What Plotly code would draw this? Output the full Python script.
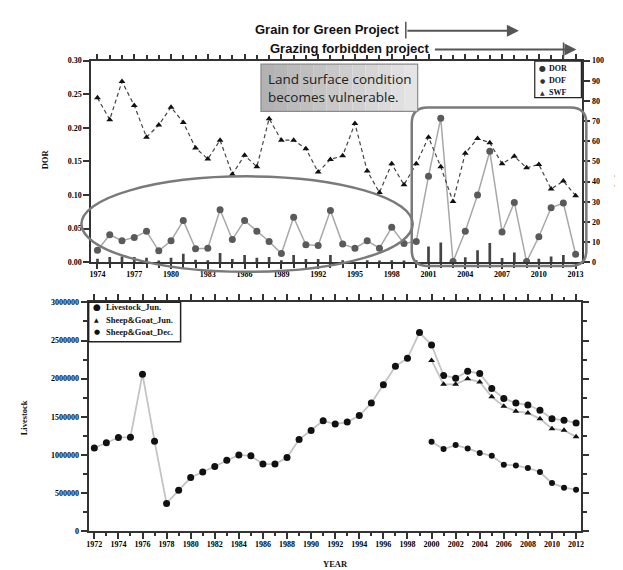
import plotly.graph_objects as go

W, H = 623, 570

# ---------------- data ----------------
years_top = list(range(1974, 2014))
dor = [0.018, 0.041, 0.032, 0.037, 0.046, 0.017, 0.032, 0.062, 0.020, 0.021,
       0.078, 0.034, 0.062, 0.046, 0.031, 0.013, 0.067, 0.026, 0.025, 0.077,
       0.027, 0.021, 0.032, 0.021, 0.052, 0.028, 0.031, 0.128, 0.214, 0.001,
       0.046, 0.100, 0.165, 0.045, 0.089, 0.001, 0.038, 0.081, 0.088, 0.012]
dof = [1.8, 2.6, 2.9, 2.6, 2.3, 0.5, 2.3, 4.2, 1.3, 1.0,
       4.6, 1.6, 3.6, 2.3, 2.6, 1.0, 3.6, 1.6, 1.6, 3.6,
       1.0, 0.0, 1.0, 0.7, 1.0, 0.7, 1.0, 7.8, 9.8, 0.0,
       2.5, 6.0, 9.6, 2.1, 4.8, 0.0, 1.8, 2.9, 3.6, 0.0]
swf = [81.5, 70.7, 89.6, 77.7, 62.0, 68.0, 76.9, 69.3, 56.7, 51.2,
       60.5, 43.6, 53.0, 47.3, 71.2, 60.5, 60.5, 56.3, 44.7, 51.0,
       52.8, 68.8, 45.2, 34.6, 48.8, 38.4, 48.8, 62.0, 47.3, 30.1,
       54.1, 61.3, 59.3, 48.8, 52.5, 46.8, 48.5, 36.3, 40.3, 33.0]

years_bot = list(range(1972, 2013))
livestock_jun = [1092000, 1160000, 1229000, 1233000, 2059000, 1182000, 365000, 537000,
                 705000, 778000, 851000, 933000, 1001000, 989000, 881000, 881000,
                 967000, 1203000, 1320000, 1448000, 1405000, 1431000, 1517000, 1681000,
                 1921000, 2162000, 2269000, 2605000, 2441000, 2042000, 2007000, 2097000,
                 2067000, 1870000, 1741000, 1681000, 1655000, 1586000, 1474000, 1457000,
                 1418000]
years_sg = list(range(2000, 2013))
sheep_jun = [2239000, 1926000, 1926000, 1999000, 1956000, 1762000, 1638000, 1573000,
             1552000, 1474000, 1345000, 1324000, 1238000]
sheep_dec = [1173000, 1079000, 1130000, 1087000, 1027000, 989000, 873000, 864000,
             830000, 778000, 632000, 572000, 546000]

top_ticks = list(range(1974, 2014, 3))
bot_ticks = list(range(1972, 2013, 2))

top_legend = [("DOR", "●", 8), ("DOF", "●", 6), ("SWF", "▲", 6)]
bot_legend = [("Livestock_Jun.", "●", 9), ("Sheep&Goat_Jun.", "▲", 6), ("Sheep&Goat_Dec.", "●", 7)]


def px(x):
    return x / W


def py(y):
    return 1 - y / H


SERIF = "Liberation Serif"
tickfont = dict(family=SERIF, size=8, color="black", weight="bold")
AX = "#333"

fig = go.Figure()

# ---------- top panel ----------
fig.add_trace(go.Bar(x=years_top, y=dof, xaxis="x", yaxis="y2", width=0.22, name="DOF",
                     marker=dict(color="#444", line=dict(width=0))))
fig.add_trace(go.Scatter(x=years_top, y=swf, xaxis="x", yaxis="y2", mode="lines+markers",
                         name="SWF", line=dict(color="#444", width=1.2, dash="4px,3px"),
                         marker=dict(symbol="triangle-up", size=6, color="#111")))
fig.add_trace(go.Scatter(x=years_top, y=dor, xaxis="x", yaxis="y", mode="lines+markers",
                         name="DOR", line=dict(color="#a8a8a8", width=1.5),
                         marker=dict(symbol="circle", size=7, color="#5a5a5a")))

# ---------- bottom panel ----------
fig.add_trace(go.Scatter(x=years_bot, y=livestock_jun, xaxis="x2", yaxis="y3",
                         mode="lines+markers", name="Livestock_Jun.",
                         line=dict(color="#c4c4c4", width=1.8),
                         marker=dict(symbol="circle", size=7, color="#111")))
fig.add_trace(go.Scatter(x=years_sg, y=sheep_jun, xaxis="x2", yaxis="y3",
                         mode="lines+markers", name="Sheep&Goat_Jun.",
                         line=dict(color="#c4c4c4", width=1.8),
                         marker=dict(symbol="triangle-up", size=6, color="#111")))
fig.add_trace(go.Scatter(x=years_sg, y=sheep_dec, xaxis="x2", yaxis="y3",
                         mode="lines+markers", name="Sheep&Goat_Dec.",
                         line=dict(color="#c4c4c4", width=1.8),
                         marker=dict(symbol="circle", size=6, color="#111")))

axis_common = dict(showline=True, linecolor=AX, linewidth=2, showgrid=False,
                   zeroline=False, ticks="outside", tickcolor=AX, tickwidth=1.5,
                   tickfont=tickfont)

fig.update_layout(
    width=W, height=H, margin=dict(l=0, r=0, t=0, b=0),
    paper_bgcolor="white", plot_bgcolor="white", showlegend=False,
    xaxis=dict(domain=[px(82), px(577)], range=[1973.5, 2013.55], anchor="y",
               tickvals=top_ticks, ticklen=5, mirror="ticks", ticklabelstandoff=-2,
               minor=dict(dtick=1, tick0=1974, ticks="outside", ticklen=4, tickcolor=AX),
               **axis_common),
    yaxis=dict(domain=[py(254.3), py(49.3)], range=[0, 0.30], dtick=0.05,
               tickformat=".2f", ticklen=6, anchor="x", **axis_common),
    yaxis2=dict(overlaying="y", side="right", range=[0, 100], dtick=10, ticklen=6,
                anchor="x", **axis_common),
    xaxis2=dict(domain=[px(79.3), px(576)], range=[1971.53, 2012.44], anchor="y3",
                tickvals=bot_ticks, ticklen=6, mirror="ticks", ticklabelstandoff=-2,
                minor=dict(dtick=1, tick0=1972, ticks="outside", ticklen=3, tickcolor=AX),
                **axis_common),
    yaxis3=dict(domain=[py(527.7), py(295)], range=[0, 3000000], dtick=500000,
                tickformat="d", ticklen=6, mirror="ticks", anchor="x2",
                minor=dict(dtick=250000, ticks="outside", ticklen=4, tickcolor=AX),
                **axis_common),
)

shapes = []
ann = []
# ellipse
shapes.append(dict(type="circle", xref="paper", yref="paper",
                   x0=px(72), x1=px(406), y0=py(264), y1=py(167),
                   line=dict(color="#7a7a7a", width=2.5)))
# rounded rectangle
x0, x1, y0, y1, r = 405, 581, 97, 258, 16
path = (f"M {px(x0 + r)},{py(y0)} L {px(x1 - r)},{py(y0)} "
        f"Q {px(x1)},{py(y0)} {px(x1)},{py(y0 + r)} "
        f"L {px(x1)},{py(y1 - r)} Q {px(x1)},{py(y1)} {px(x1 - r)},{py(y1)} "
        f"L {px(x0 + r)},{py(y1)} Q {px(x0)},{py(y1)} {px(x0)},{py(y1 - r)} "
        f"L {px(x0)},{py(y0 + r)} Q {px(x0)},{py(y0)} {px(x0 + r)},{py(y0)} Z")
shapes.append(dict(type="path", xref="paper", yref="paper", path=path,
                   line=dict(color="#7a7a7a", width=2.5)))
# gradient text box (strips)
bx0, bx1, by0, by1 = 253, 411, 53, 101
n = 12
for i in range(n):
    c = int(178 + (228 - 178) * i / (n - 1))
    shapes.append(dict(type="rect", xref="paper", yref="paper",
                       x0=px(bx0 + (bx1 - bx0) * i / n), x1=px(bx0 + (bx1 - bx0) * (i + 1) / n),
                       y0=py(by1), y1=py(by0), fillcolor=f"rgb({c},{c},{c})",
                       line=dict(width=0), layer="above"))
shapes.append(dict(type="rect", xref="paper", yref="paper",
                   x0=px(bx0), x1=px(bx1), y0=py(by1), y1=py(by0),
                   line=dict(color="#8a8a8a", width=1.2), layer="above"))
# vertical markers near the project arrows
shapes.append(dict(type="line", xref="paper", yref="paper",
                   x0=px(399), x1=px(399), y0=py(10), y1=py(27),
                   line=dict(color="#555", width=1.5)))
shapes.append(dict(type="line", xref="paper", yref="paper",
                   x0=px(558), x1=px(558), y0=py(31), y1=py(47),
                   line=dict(color="#555", width=1.5)))

# ---- custom legends (compact, like the reference) ----
legfont = dict(family=SERIF, size=8, color="#111", weight="bold")
shapes.append(dict(type="rect", xref="paper", yref="paper", x0=px(529), x1=px(576),
                   y0=py(87), y1=py(50), fillcolor="white",
                   line=dict(color="#222", width=1.2), layer="above"))
for i, (name, sym, sz) in enumerate(top_legend):
    yy = 57.5 + 12 * i
    ann.append(dict(xref="paper", yref="paper", x=px(537), y=py(yy), text=sym,
                    showarrow=False, xanchor="center", yanchor="middle",
                    font=dict(family="DejaVu Sans", size=sz, color="#333")))
    ann.append(dict(xref="paper", yref="paper", x=px(541.5), y=py(yy), text=name,
                    showarrow=False, xanchor="left", yanchor="middle", font=legfont))

shapes.append(dict(type="rect", xref="paper", yref="paper", x0=px(79.3), x1=px(172),
                   y0=py(335), y1=py(295), fillcolor="white",
                   line=dict(color="#222", width=1.5), layer="above"))
legfont2 = dict(family=SERIF, size=8.5, color="#111", weight="bold")
for i, (name, sym, sz) in enumerate(bot_legend):
    yy = 300 + 12.7 * i
    ann.append(dict(xref="paper", yref="paper", x=px(87.5), y=py(yy), text=sym,
                    showarrow=False, xanchor="center", yanchor="middle",
                    font=dict(family="DejaVu Sans", size=sz, color="#111")))
    ann.append(dict(xref="paper", yref="paper", x=px(95), y=py(yy), text=name,
                    showarrow=False, xanchor="left", yanchor="middle", font=legfont2))

fig.update_layout(shapes=shapes)

ann.append(dict(xref="paper", yref="paper", x=px(258), y=py(77), xanchor="left",
                yanchor="middle", align="left", showarrow=False,
                text="Land surface condition<br>becomes vulnerable.",
                font=dict(family="Open Sans", size=13.5, color="#222")))
ann.append(dict(xref="paper", yref="paper", x=px(394), y=py(18), xanchor="right",
                yanchor="middle", showarrow=False, text="<b>Grain for Green Project</b>",
                font=dict(family="Liberation Sans", size=13, color="#111")))
ann.append(dict(xref="paper", yref="paper", x=px(425), y=py(37), xanchor="right",
                yanchor="middle", showarrow=False, text="<b>Grazing forbidden project</b>",
                font=dict(family="Liberation Sans", size=13, color="#111")))
# arrows (tail offset in pixels)
ann.append(dict(xref="paper", yref="paper", x=px(513), y=py(19), axref="pixel",
                ayref="pixel", ax=-(513 - 400), ay=0, text="", showarrow=True,
                arrowhead=2, arrowsize=1.2, arrowwidth=2, arrowcolor="#555"))
ann.append(dict(xref="paper", yref="paper", x=px(571), y=py(38), axref="pixel",
                ayref="pixel", ax=-(571 - 428), ay=0, text="", showarrow=True,
                arrowhead=2, arrowsize=1.2, arrowwidth=2, arrowcolor="#555"))
# axis titles
title_font = dict(family=SERIF, size=8.5, color="#111", weight="bold")
ann.append(dict(xref="paper", yref="paper", x=px(35), y=py(150), text="DOR",
                textangle=-90, showarrow=False, font=title_font,
                xanchor="center", yanchor="middle"))
ann.append(dict(xref="paper", yref="paper", x=px(614), y=py(150), text="DOF&SWF(%)",
                textangle=90, showarrow=False, font=title_font,
                xanchor="center", yanchor="middle"))
ann.append(dict(xref="paper", yref="paper", x=px(15), y=py(412), text="Livestock",
                textangle=-90, showarrow=False, font=title_font,
                xanchor="center", yanchor="middle"))
ann.append(dict(xref="paper", yref="paper", x=px(328), y=py(561), text="YEAR",
                showarrow=False, font=title_font, xanchor="center", yanchor="middle"))
fig.update_layout(annotations=ann)

fig.write_html("out.html")
